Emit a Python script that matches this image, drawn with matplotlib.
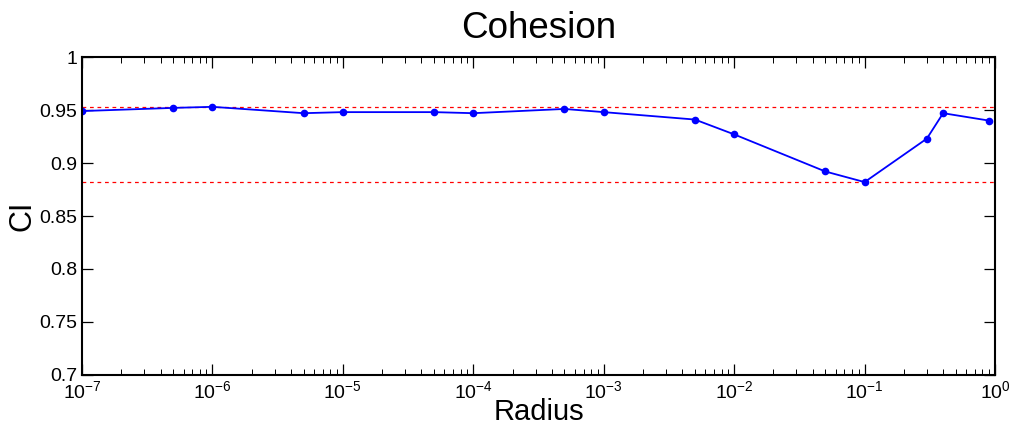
import numpy as np
import matplotlib
matplotlib.use('Agg')
import matplotlib.pyplot as plt
from matplotlib.ticker import LogLocator, NullFormatter, FixedLocator

plt.rcParams['font.family'] = ['Liberation Sans', 'DejaVu Sans']

radius = [1e-7, 5e-7, 1e-6, 5e-6, 1e-5, 5e-5, 1e-4, 5e-4, 1e-3,
          5e-3, 1e-2, 5e-2, 1e-1, 0.3, 0.4, 0.9]
ci = [0.949, 0.952, 0.953, 0.947, 0.948, 0.948, 0.947, 0.951, 0.948,
      0.941, 0.927, 0.892, 0.882, 0.923, 0.947, 0.940]
y_ticks = [0.7, 0.75, 0.8, 0.85, 0.9, 0.95, 1]
y_tick_labels = ['0.7', '0.75', '0.8', '0.85', '0.9', '0.95', '1']

fig = plt.figure(figsize=(10.14, 4.29), dpi=100)
ax = fig.add_axes([0.0809, 0.1259, 0.9004, 0.7412])

# max / min reference lines
ax.axhline(max(ci), color=(1, 0, 0), linestyle=(0, (3, 3)), linewidth=0.9)
ax.axhline(min(ci), color=(1, 0, 0), linestyle=(0, (3, 3)), linewidth=0.9)
ax.plot(radius, ci, color=(0, 0, 1), linewidth=1.3, marker='o',
        markersize=5.5, markeredgewidth=0)

ax.set_xscale('log')
ax.set_xlim(1e-7, 1)
ax.set_ylim(0.7, 1)
ax.xaxis.set_major_locator(LogLocator(base=10, numticks=10))
ax.xaxis.set_minor_locator(LogLocator(base=10, subs=np.arange(2, 10), numticks=20))
ax.xaxis.set_minor_formatter(NullFormatter())
ax.yaxis.set_major_locator(FixedLocator(y_ticks))
ax.set_yticklabels(y_tick_labels)

for s in ax.spines.values():
    s.set_linewidth(1.5)
ax.tick_params(which='both', direction='in', top=True, right=True, labelsize=14)
ax.tick_params(which='major', length=8, width=0.9)
ax.tick_params(which='minor', length=4, width=0.7)
ax.tick_params(axis='x', pad=4)

ax.set_title('Cohesion', fontsize=26.5, pad=14)
ax.set_xlabel('Radius', fontsize=21, labelpad=-3)
ax.set_ylabel('CI', fontsize=22, labelpad=1)

fig.savefig('out.png', dpi=100)
